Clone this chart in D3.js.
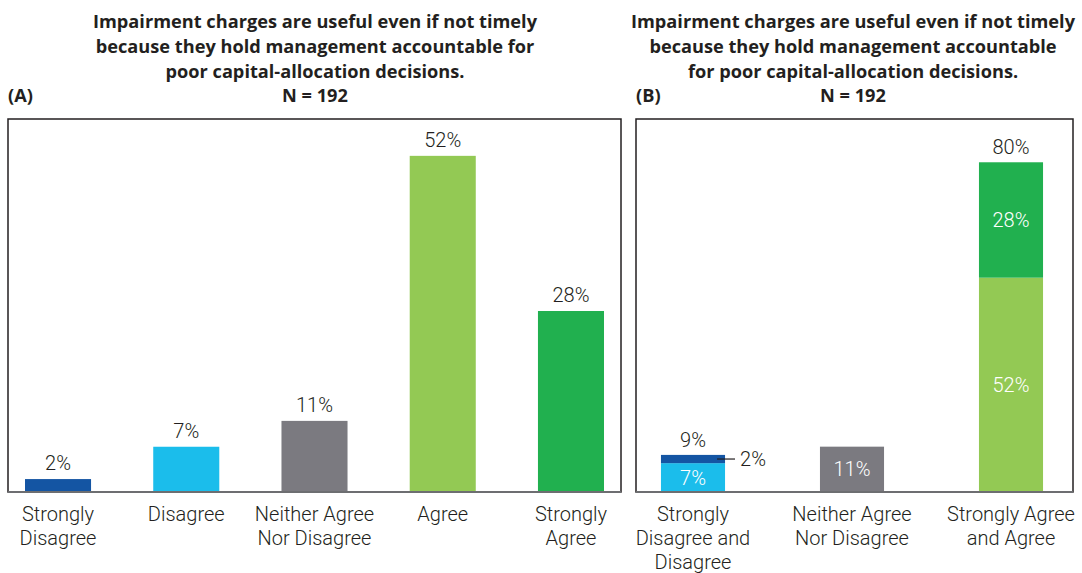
<!DOCTYPE html>
<html>
<head>
<meta charset="utf-8">
<script src="https://cdn.jsdelivr.net/npm/d3@7"></script>
<style>
  body { margin: 0; background: #fff; }
  text { font-family: Roboto, "Noto Sans", sans-serif; }
  text.title { font-family: "Open Sans", sans-serif; font-size: 18.2px; font-weight: 700; fill: #231f20; }
</style>
</head>
<body>
<div id="chart"></div>
<script>
var width = 1082, height = 573;

// data
var titleLines = ["Impairment charges are useful even if not timely",
                  "because they hold management accountable for",
                  "poor capital-allocation decisions."];
var titleLinesB = ["Impairment charges are useful even if not timely",
                   "because they hold management accountable",
                   "for poor capital-allocation decisions."];
var sampleLabel = "N = 192";

var catsA = ["Strongly Disagree", "Disagree", "Neither Agree Nor Disagree", "Agree", "Strongly Agree"];
var labelsA = [["Strongly", "Disagree"], ["Disagree"], ["Neither Agree", "Nor Disagree"], ["Agree"], ["Strongly", "Agree"]];
var valsA = [2, 7, 11, 52, 28];
var colorsA = ["#1455a3", "#1bbdeb", "#7b7a80", "#93c954", "#21b04f"];

var catsB = ["Disagree total", "Neutral", "Agree total"];
var labelsB = [["Strongly", "Disagree and", "Disagree"], ["Neither Agree", "Nor Disagree"], ["Strongly Agree", "and Agree"]];
var lowerB = [7, 11, 52];
var upperB = [2, 0, 28];
var totalsB = [9, null, 80];
var lowerColors = ["#1bbdeb", "#7b7a80", "#93c954"];
var upperColors = ["#1455a3", "#7b7a80", "#21b04f"];

var svg = d3.select("#chart").append("svg")
  .attr("width", width)
  .attr("height", height);

var baseY = 492, topY = 119;

function drawTitle(lines, cx, tag, tagX) {
  var g = svg.append("g");
  lines.forEach(function(l, i) {
    g.append("text").attr("class", "title")
      .attr("x", cx).attr("y", 28 + i * 25)
      .attr("text-anchor", "middle")
      .text(l);
  });
  g.append("text").attr("class", "title")
    .attr("x", cx).attr("y", 102)
    .attr("text-anchor", "middle")
    .text(sampleLabel);
  g.append("text").attr("class", "title")
    .attr("x", tagX).attr("y", 102)
    .text(tag);
}

function drawBox(x0, x1) {
  svg.append("rect")
    .attr("x", x0).attr("y", topY)
    .attr("width", x1 - x0).attr("height", baseY - topY)
    .attr("fill", "none").attr("stroke", "#231f20").attr("stroke-width", 1.5);
  svg.append("line")
    .attr("x1", x0).attr("x2", x1).attr("y1", baseY).attr("y2", baseY)
    .attr("stroke", "#6d6e71").attr("stroke-width", 2);
}

function drawCatLabels(x, lines) {
  lines.forEach(function(ls, i) {
    var t = svg.append("text")
      .attr("x", x(i) + x.bandwidth() / 2)
      .attr("text-anchor", "middle")
      .style("font-size", "20px").style("font-weight", "300").style("fill", "#231f20");
    ls.forEach(function(s, j) {
      t.append("tspan").attr("x", x(i) + x.bandwidth() / 2)
        .attr("y", 521 + j * 24).text(s);
    });
  });
}

// ---- panel A
drawTitle(titleLines, 315, "(A)", 8);

var xA = d3.scaleBand()
  .domain(d3.range(catsA.length))
  .range([-6.1, 635.1])
  .paddingInner(0.485)
  .paddingOuter(0.2425);

var yA = d3.scaleLinear().domain([0, 57.7]).range([baseY, topY]);

svg.append("g").selectAll("rect")
  .data(valsA)
  .enter().append("rect")
  .attr("x", (d, i) => xA(i))
  .attr("width", xA.bandwidth())
  .attr("y", d => yA(d))
  .attr("height", d => baseY - yA(d))
  .attr("fill", (d, i) => colorsA[i]);

svg.append("g").selectAll("text")
  .data(valsA)
  .enter().append("text")
  .attr("x", (d, i) => xA(i) + xA.bandwidth() / 2)
  .attr("y", d => yA(d) - 9)
  .attr("text-anchor", "middle")
  .style("font-size", "20px").style("font-weight", "300").style("fill", "#231f20")
  .text(d => d + "%");

drawBox(8, 621);
drawCatLabels(xA, labelsA);

// ---- panel B
drawTitle(titleLinesB, 853, "(B)", 636);

var xB = d3.scaleBand()
  .domain(d3.range(catsB.length))
  .range([613.5, 1090.5])
  .paddingInner(0.597)
  .paddingOuter(0.2985);

var yB = d3.scaleLinear().domain([0, 90.5]).range([baseY, topY]);

var tableB = catsB.map(function(c, i) { return { i: i, lower: lowerB[i], upper: upperB[i] }; });
var stackB = d3.stack().keys(["lower", "upper"])(tableB);

stackB.forEach(function(layer, k) {
  svg.append("g").selectAll("rect")
    .data(layer)
    .enter().append("rect")
    .attr("x", d => xB(d.data.i))
    .attr("width", xB.bandwidth())
    .attr("y", d => yB(d[1]))
    .attr("height", d => yB(d[0]) - yB(d[1]))
    .attr("fill", d => (k == 0 ? lowerColors : upperColors)[d.data.i]);
});

// inside labels (white)
stackB.forEach(function(layer, k) {
  svg.append("g").selectAll("text")
    .data(layer.filter(d => d[1] - d[0] >= 5))
    .enter().append("text")
    .attr("x", d => xB(d.data.i) + xB.bandwidth() / 2)
    .attr("y", d => (yB(d[0]) + yB(d[1])) / 2 + 7)
    .attr("text-anchor", "middle")
    .style("font-size", "20px").style("font-weight", "300").style("fill", "#fff")
    .text(d => (d[1] - d[0]) + "%");
});

// totals above
svg.append("g").selectAll("text")
  .data(totalsB.map((t, i) => ({ t: t, i: i })).filter(d => d.t != null))
  .enter().append("text")
  .attr("x", d => xB(d.i) + xB.bandwidth() / 2)
  .attr("y", d => yB(d.t) - 8)
  .attr("text-anchor", "middle")
  .style("font-size", "20px").style("font-weight", "300").style("fill", "#231f20")
  .text(d => d.t + "%");

// callout for small segment
var small = stackB[1][0];
var cy = (yB(small[0]) + yB(small[1])) / 2;
var bx = xB(0) + xB.bandwidth();
svg.append("line")
  .attr("x1", bx - 8).attr("x2", bx + 10)
  .attr("y1", cy).attr("y2", cy)
  .attr("stroke", "#231f20").attr("stroke-width", 1.2);
svg.append("text")
  .attr("x", bx + 15).attr("y", cy + 7)
  .style("font-size", "20px").style("font-weight", "300").style("fill", "#231f20")
  .text((small[1] - small[0]) + "%");

drawBox(636, 1073);
drawCatLabels(xB, labelsB);
</script>
</body>
</html>
